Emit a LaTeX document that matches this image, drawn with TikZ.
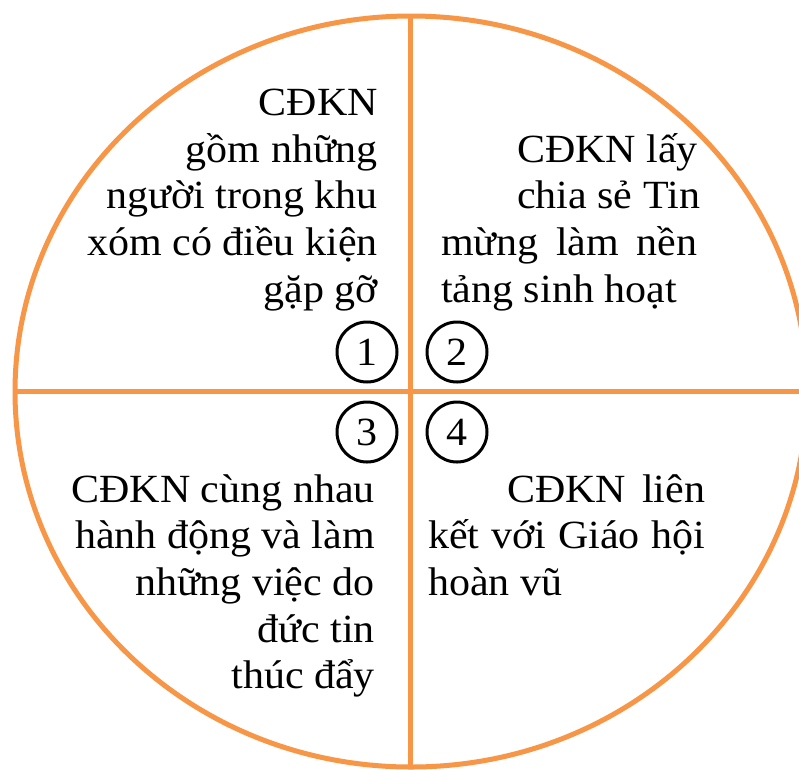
\documentclass[tikz,border=0pt]{standalone}
\usepackage{fontspec}
\setmainfont{Liberation Serif}[FakeStretch=1.05]
\definecolor{orangeline}{HTML}{F79646}
\begin{document}
\begin{tikzpicture}[x=1pt,y=-1pt,
  txt/.style={inner sep=0pt,font=\fontsize{40}{47}\selectfont},
  rt/.style={txt,anchor=base east},
  lt/.style={txt,anchor=base west},
  num/.style={draw=black,line width=3pt,circle,minimum size=60pt,inner sep=0pt,font=\fontsize{40}{47}\selectfont},
  frame/.style={draw=orangeline,line width=5pt}]
\useasboundingbox (0,0) rectangle (799,769);
\fill[white] (0,0) rectangle (799,769);
\begin{scope}
\clip (0,0) rectangle (799,769);
\coordinate (c) at (411,391.5);
\draw[frame] (c) ellipse [x radius=396, y radius=375.5];
\coordinate (top) at (410,16);
\coordinate (bot) at (410,767);
\coordinate (lft) at (15,391.5);
\coordinate (rgt) at (805,391.5);
\draw[frame] (top) -- (bot);
\draw[frame] (lft) -- (rgt);
\end{scope}
% quadrant 1
\node[rt] (q1a) at (378,115) {CĐKN};
\node[rt] (q1b) at (378,162) {gồm những};
\node[rt] (q1c) at (378,208) {người trong khu};
\node[rt] (q1d) at (378,255) {xóm có điều kiện};
\node[rt] (q1e) at (378,302) {gặp gỡ};
% quadrant 2
\node[lt] (q2a) at (517,162) {CĐKN lấy};
\node[lt] (q2b) at (517,208) {chia sẻ Tin};
\node[lt] (q2c) at (441,255) {\makebox[256pt][s]{mừng làm nền}};
\node[lt] (q2d) at (441,302) {tảng sinh hoạt};
% quadrant 3
\node[rt] (q3a) at (375,502) {CĐKN cùng nhau};
\node[rt] (q3b) at (375,548) {hành động và làm};
\node[rt] (q3c) at (375,595) {những việc do};
\node[rt] (q3d) at (375,642) {đức tin};
\node[rt] (q3e) at (375,688) {thúc đẩy};
% quadrant 4
\node[lt] (q4a) at (507,502) {\makebox[198pt][s]{CĐKN liên}};
\node[lt] (q4b) at (428,548) {\makebox[277pt][s]{kết với Giáo hội}};
\node[lt] (q4c) at (428,595) {hoàn vũ};
% numbers
\node[num] (n1) at (367,352) {1};
\node[num] (n2) at (457,352) {2};
\node[num] (n3) at (367,432) {3};
\node[num] (n4) at (457,432) {4};
\end{tikzpicture}
\end{document}
